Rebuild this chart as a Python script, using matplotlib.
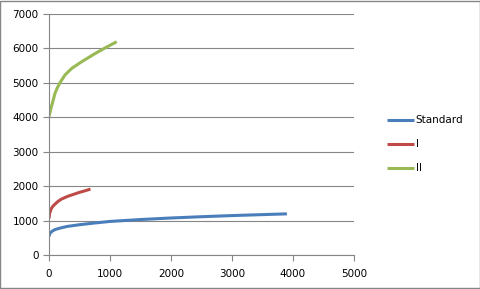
import matplotlib
matplotlib.use('Agg')
import matplotlib.pyplot as plt
from matplotlib.patches import Rectangle

# Data
std_x = [0, 10, 30, 60, 100, 200, 300, 500, 700, 1000, 1500, 2000, 2500, 3000, 3500, 3900]
std_y = [540, 610, 660, 700, 740, 790, 830, 880, 920, 975, 1030, 1075, 1112, 1145, 1173, 1195]

i_x = [0, 10, 30, 60, 100, 150, 200, 300, 400, 500, 600, 680]
i_y = [1060, 1200, 1320, 1410, 1480, 1560, 1620, 1700, 1760, 1820, 1870, 1915]

ii_x = [0, 15, 35, 55, 98, 140, 180, 262, 372, 536, 754, 940, 1110]
ii_y = [4030, 4130, 4280, 4405, 4696, 4870, 5005, 5228, 5420, 5614, 5850, 6035, 6195]

grid_col = '#868686'

fig = plt.figure(figsize=(4.81, 2.89), dpi=100)
ax = fig.add_axes([49/481, 1 - 255/289, (354 - 49)/481, (255 - 14)/289])

ax.plot(std_x, std_y, color='#4a7ebb', lw=2.2, label='Standard', solid_capstyle='butt')
ax.plot(i_x, i_y, color='#be4b48', lw=2.2, label='I', solid_capstyle='butt')
ax.plot(ii_x, ii_y, color='#98b954', lw=2.2, label='II', solid_capstyle='butt')

ax.set_xlim(0, 5000)
ax.set_ylim(0, 7000)
ax.set_xticks(range(0, 5001, 1000))
ax.set_yticks(range(0, 7001, 1000))
ax.yaxis.grid(True, color=grid_col, lw=0.8)
ax.set_axisbelow(True)
for s in ['top', 'right']:
    ax.spines[s].set_visible(False)
for s in ['left', 'bottom']:
    ax.spines[s].set_color(grid_col)
    ax.spines[s].set_linewidth(0.8)
ax.tick_params(colors=grid_col, labelcolor='black', labelsize=7.5, length=4, width=0.8, direction='out')
ax.tick_params(axis='x', pad=6)

leg = fig.legend(loc='upper left', bbox_to_anchor=(383/481, 1 - 111/289), frameon=False,
                 fontsize=7.5, handlelength=2.6, handletextpad=0.15, labelspacing=1.35,
                 borderaxespad=0)

# outer border of the chart
fig.patches.append(Rectangle((0.001, 0.002), 0.997, 0.995, transform=fig.transFigure,
                             fill=False, edgecolor=grid_col, lw=1))

fig.savefig('out.png', dpi=100)
